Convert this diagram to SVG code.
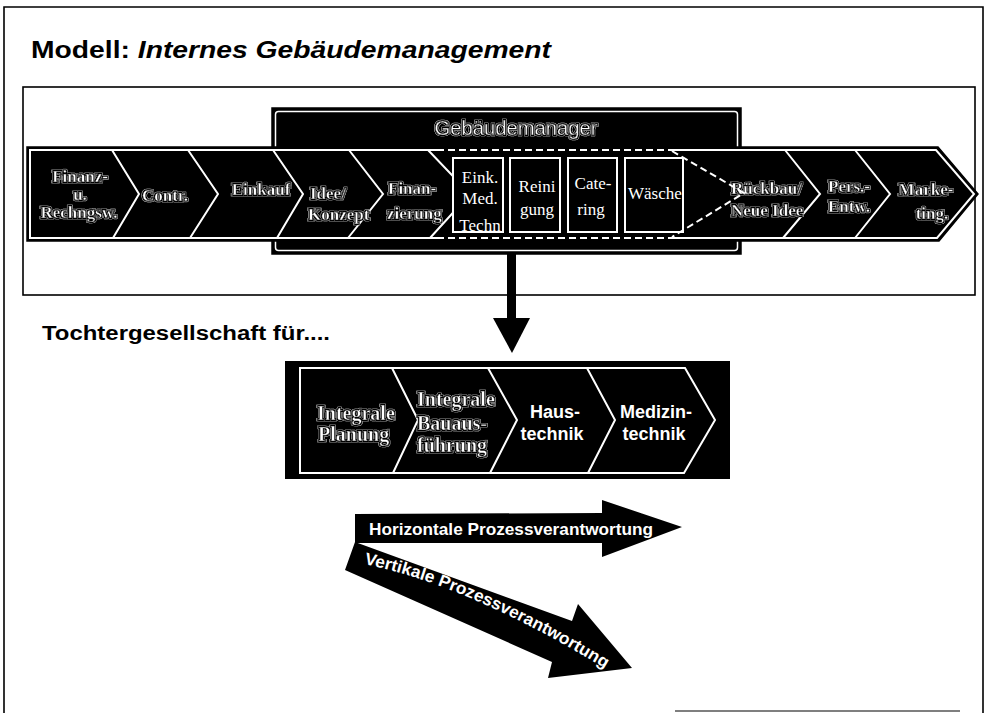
<svg xmlns="http://www.w3.org/2000/svg" width="987" height="713" viewBox="0 0 987 713">
  <style>
    .frame { fill: none; stroke: #000; stroke-width: 1.6; }
    .wline { fill: none; stroke: #fff; stroke-width: 2; stroke-linejoin: miter; }
    .wdash { fill: none; stroke: #fff; stroke-width: 2; stroke-dasharray: 7 4; }
    .serif { font-family: "Liberation Serif", "Times New Roman", serif; }
    .sans { font-family: "Liberation Sans", Arial, sans-serif; }
    .lbl { font-family: "Liberation Serif", "Times New Roman", serif; font-weight: bold; font-size: 17px; fill: #fff; stroke: #000; stroke-width: 0.45; filter: url(#halo); }
    .lbl2 { font-family: "Liberation Serif", "Times New Roman", serif; font-weight: bold; font-size: 20px; fill: #fff; stroke: #000; stroke-width: 0.5; filter: url(#halo); }
    .box { fill: #000; stroke: #fff; stroke-width: 2; }
    .boxtxt { font-family: "Liberation Serif", "Times New Roman", serif; font-size: 17px; fill: #fff; }
    .sanstxt { font-family: "Liberation Sans", Arial, sans-serif; font-weight: bold; font-size: 18px; fill: #fff; }
    .arrtxt { font-family: "Liberation Sans", Arial, sans-serif; font-weight: bold; font-size: 17px; fill: #fff; }
  </style>
  <defs>
    <filter id="halo" x="-15%" y="-40%" width="130%" height="180%">
      <feMorphology in="SourceAlpha" operator="dilate" radius="1.3" result="grow"/>
      <feFlood flood-color="#fff"/>
      <feComposite in2="grow" operator="in" result="glow"/>
      <feMorphology in="SourceAlpha" operator="dilate" radius="0.6" result="edge"/>
      <feFlood flood-color="#000"/>
      <feComposite in2="edge" operator="in" result="rim"/>
      <feMerge>
        <feMergeNode in="glow"/>
        <feMergeNode in="rim"/>
        <feMergeNode in="SourceGraphic"/>
      </feMerge>
    </filter>
    <clipPath id="waescheClip">
      <rect x="626" y="159" width="56" height="72"/>
    </clipPath>
    <path id="vertPath" d="M 364,564 Q 470,586 604,668"/>
  </defs>

  <rect width="987" height="713" fill="#fff"/>

  <!-- page frame -->
  <g id="page-frame" fill="none" stroke="#000" stroke-width="1.6">
    <path d="M 4,713 L 4,7 L 983,7 L 983,713"/>
    <path d="M 675,711 L 960,711" stroke-width="1.2"/>
  </g>

  <!-- heading -->
  <text x="31" y="58" class="sans" font-size="24" font-weight="bold" fill="#000" textLength="520" lengthAdjust="spacingAndGlyphs">Modell: <tspan font-style="italic">Internes Gebäudemanagement</tspan></text>

  <!-- upper panel -->
  <rect id="upper-panel" x="23" y="87" width="952" height="208" class="frame"/>

  <!-- building manager block -->
  <g id="gebaeudemanager">
    <rect x="272" y="108" width="469" height="146" fill="#000" stroke="#000" stroke-width="1.5"/>
    <rect x="275.5" y="111.5" width="462" height="139" rx="3" fill="none" stroke="#fff" stroke-width="1.5"/>
    <text x="516" y="135" text-anchor="middle" class="sans" font-size="20" fill="#fff" stroke="#000" stroke-width="0.4" filter="url(#halo)" textLength="163" lengthAdjust="spacingAndGlyphs">Gebäudemanager</text>
  </g>

  <!-- process chain -->
  <g id="process-band">
    <polygon points="27,147 938,147 978,194 939,241 27,241" fill="#000" stroke="#000" stroke-width="1.5"/>
    <path class="wline" d="M 437,150 L 30,150 L 30,238 L 437,238"/>
    <path class="wline" d="M 672,150 L 936,150 L 974,194 L 937,238 L 672,238"/>
    <path class="wdash" d="M 437,150 L 672,150 M 437,238 L 672,238"/>
    <!-- chevron dividers -->
    <path class="wline" d="M 112,150 L 139,194 L 113,238"/>
    <path class="wline" d="M 188,150 L 218,194 L 190,238"/>
    <path class="wline" d="M 273,150 L 303,194 L 277,238"/>
    <path class="wline" d="M 349,150 L 383,194 L 348,238"/>
    <path class="wline" d="M 428,150 L 470,194 L 430,238"/>
    <path class="wline" d="M 785,150 L 820,194 L 783,238"/>
    <path class="wline" d="M 855,150 L 890,194 L 855,238"/>
  </g>

  <g id="finanz">
    <text class="lbl" font-size="15" text-anchor="middle" x="80" y="182">Finanz-</text>
    <text class="lbl" font-size="15" text-anchor="middle" x="80" y="200">u.</text>
    <text class="lbl" font-size="15" text-anchor="middle" x="79" y="218">Rechngsw.</text>
  </g>
  <g id="controlling">
    <text class="lbl" text-anchor="middle" x="165" y="201">Contr.</text>
  </g>
  <g id="einkauf">
    <text class="lbl" text-anchor="middle" x="261" y="195">Einkauf</text>
  </g>
  <g id="idee-konzept">
    <text class="lbl" x="310" y="199">Idee/</text>
    <text class="lbl" x="308" y="220">Konzept</text>
  </g>
  <g id="finanzierung">
    <text class="lbl" x="388" y="194">Finan-</text>
    <text class="lbl" x="387" y="219">zierung</text>
  </g>

  <g id="eink-med-techn">
    <rect class="box" x="453" y="158" width="50" height="74"/>
    <text class="boxtxt" text-anchor="middle" x="480" y="183">Eink.</text>
    <text class="boxtxt" text-anchor="middle" x="480" y="204">Med.</text>
    <text class="boxtxt" text-anchor="middle" x="480" y="231">Techn</text>
  </g>
  <g id="reinigung">
    <rect class="box" x="510" y="158" width="50" height="74"/>
    <text class="boxtxt" text-anchor="middle" x="537" y="192">Reini</text>
    <text class="boxtxt" text-anchor="middle" x="537" y="215">gung</text>
  </g>
  <g id="catering">
    <rect class="box" x="568" y="158" width="49" height="74"/>
    <text class="boxtxt" text-anchor="middle" x="593" y="189">Cate-</text>
    <text class="boxtxt" text-anchor="middle" x="591" y="215">ring</text>
  </g>
  <g id="waesche">
    <rect class="box" x="625" y="158" width="58" height="74"/>
    <text class="boxtxt" x="628" y="199" clip-path="url(#waescheClip)">Wäsche</text>
  </g>

  <g id="rueckbau">
    <text class="lbl" x="731" y="194">Rückbau/</text>
    <text class="lbl" x="731" y="216">Neue Idee</text>
  </g>
  <!-- dashed wedge around the in-house services -->
  <path class="wdash" d="M 672,151 L 744,193 L 672,237"/>

  <g id="personal">
    <text class="lbl" x="828" y="192">Pers.-</text>
    <text class="lbl" x="828" y="212">Entw.</text>
  </g>
  <g id="marketing">
    <text class="lbl" text-anchor="middle" x="926" y="195">Marke-</text>
    <text class="lbl" text-anchor="middle" x="932" y="219">ting.</text>
  </g>

  <!-- connector down to the subsidiary -->
  <g id="connectors">
    <rect x="507" y="254" width="9" height="66" fill="#000"/>
    <polygon points="493,318 530,318 512,353" fill="#000"/>
  </g>

  <text x="42" y="340" class="sans" font-size="20" font-weight="bold" fill="#000" textLength="288" lengthAdjust="spacingAndGlyphs">Tochtergesellschaft  für....</text>

  <!-- subsidiary process chain -->
  <g id="tochter-band">
    <rect x="285" y="361" width="445" height="118" fill="#000"/>
    <polygon points="300,368 685,368 715,420 684,473 300,473" fill="none" stroke="#fff" stroke-width="2"/>
    <path class="wline" d="M 392,368 L 418,420 L 393,473"/>
    <path class="wline" d="M 488,368 L 517,420 L 490,473"/>
    <path class="wline" d="M 587,368 L 615,420 L 588,473"/>
  </g>
  <g id="integrale-planung">
    <text class="lbl2" x="317" y="420">Integrale</text>
    <text class="lbl2" x="318" y="441">Planung</text>
  </g>
  <g id="integrale-bauausfuehrung">
    <text class="lbl2" x="417" y="406">Integrale</text>
    <text class="lbl2" x="417" y="430">Bauaus-</text>
    <text class="lbl2" x="417" y="452">führung</text>
  </g>
  <g id="haustechnik">
    <text class="sanstxt" text-anchor="middle" x="555" y="418">Haus-</text>
    <text class="sanstxt" text-anchor="middle" x="552" y="440">technik</text>
  </g>
  <g id="medizintechnik">
    <text class="sanstxt" text-anchor="middle" x="656" y="418">Medizin-</text>
    <text class="sanstxt" text-anchor="middle" x="654" y="440">technik</text>
  </g>

  <!-- responsibility arrows -->
  <g id="horizontal-arrow">
    <polygon points="355,514 602,513 602,500 682,527 602,557 602,543 355,543" fill="#000"/>
    <text class="arrtxt" x="369" y="535" textLength="284" lengthAdjust="spacingAndGlyphs">Horizontale Prozessverantwortung</text>
  </g>
  <g id="vertical-arrow">
    <polygon points="355,542 572,621 578,604 632,668 548,678 552,662 345,570" fill="#000"/>
    <text class="arrtxt" font-size="16"><textPath href="#vertPath" textLength="264" lengthAdjust="spacingAndGlyphs">Vertikale Prozessverantwortung</textPath></text>
  </g>
</svg>
